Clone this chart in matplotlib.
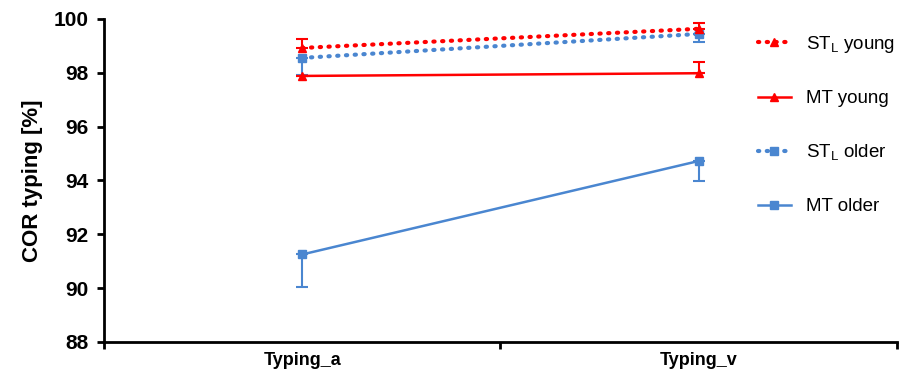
import matplotlib
matplotlib.use("Agg")
import matplotlib.pyplot as plt
from matplotlib.lines import Line2D
import numpy as np

plt.rcParams['font.family'] = ['Liberation Sans', 'DejaVu Sans']
plt.rcParams['mathtext.fontset'] = 'custom'
plt.rcParams['mathtext.rm'] = 'Liberation Sans'

categories = ["Typing_a", "Typing_v"]

# values
st_young = [98.92, 99.63]
st_young_err_up = [0.33, 0.22]
mt_young = [97.88, 97.98]
mt_young_err_up = [0.0, 0.42]
st_older = [98.55, 99.44]
st_older_err_down = [0.65, 0.3]
mt_older = [91.25, 94.72]
mt_older_err_down = [1.22, 0.74]

red = "#FF0000"
blue = "#4A86D0"

fig = plt.figure(figsize=(9.05, 3.77), dpi=100)
ax = fig.add_axes([0.115, 0.093, 0.876, 0.857])
x = np.arange(len(categories))
zero = [0, 0]

dot = (0, (0.3, 1.8))
eb = dict(capsize=4, elinewidth=1.5, capthick=1.5)

ax.errorbar(x, mt_older, yerr=[mt_older_err_down, zero], color=blue, lw=1.8,
            marker='s', ms=5.5, **eb)
ax.errorbar(x, st_older, yerr=[st_older_err_down, zero], color=blue, lw=3,
            ls=dot, dash_capstyle='round', marker='s', ms=5.5, **eb)
ax.errorbar(x, mt_young, yerr=[zero, mt_young_err_up], color=red, lw=1.8,
            marker='^', ms=6, **eb)
ax.errorbar(x, st_young, yerr=[zero, st_young_err_up], color=red, lw=3,
            ls=dot, dash_capstyle='round', marker='^', ms=6, **eb)

ax.set_xlim(-0.5, 1.5)
ax.set_ylim(88, 100)
ax.set_yticks(np.arange(88, 101, 2))
ax.set_xticks([-0.5, 0.5, 1.5])
ax.set_xticklabels([])
ax.set_xticks(x, minor=True)
ax.set_xticklabels(categories, minor=True, fontsize=13, fontweight='bold')
ax.tick_params(axis='x', which='minor', length=0, pad=7)
ax.tick_params(axis='x', which='major', length=5, width=2, direction='out')
ax.tick_params(axis='y', length=5, width=2, labelsize=15, pad=6)
for t in ax.get_yticklabels():
    t.set_fontweight('bold')
ax.spines['top'].set_visible(False)
ax.spines['right'].set_visible(False)
ax.spines['left'].set_linewidth(2)
ax.spines['bottom'].set_linewidth(2)
ax.set_ylabel("COR typing [%]", fontsize=16, fontweight='bold', labelpad=8)

handles = [
    Line2D([], [], color=red, lw=3, ls=dot, dash_capstyle='round', marker='^', ms=6),
    Line2D([], [], color=red, lw=1.8, marker='^', ms=6),
    Line2D([], [], color=blue, lw=3, ls=dot, dash_capstyle='round', marker='s', ms=5.5),
    Line2D([], [], color=blue, lw=1.8, marker='s', ms=5.5),
]
labels = ["ST$_\\mathrm{L}$ young", "MT young", "ST$_\\mathrm{L}$ older", "MT older"]
ax.legend(handles, labels, loc='upper left', bbox_to_anchor=(0.819, 0.955),
          bbox_transform=fig.transFigure, frameon=False, fontsize=13.5,
          labelspacing=1.88, handlelength=1.75, handletextpad=0.8)

fig.savefig("out.png", dpi=100)
